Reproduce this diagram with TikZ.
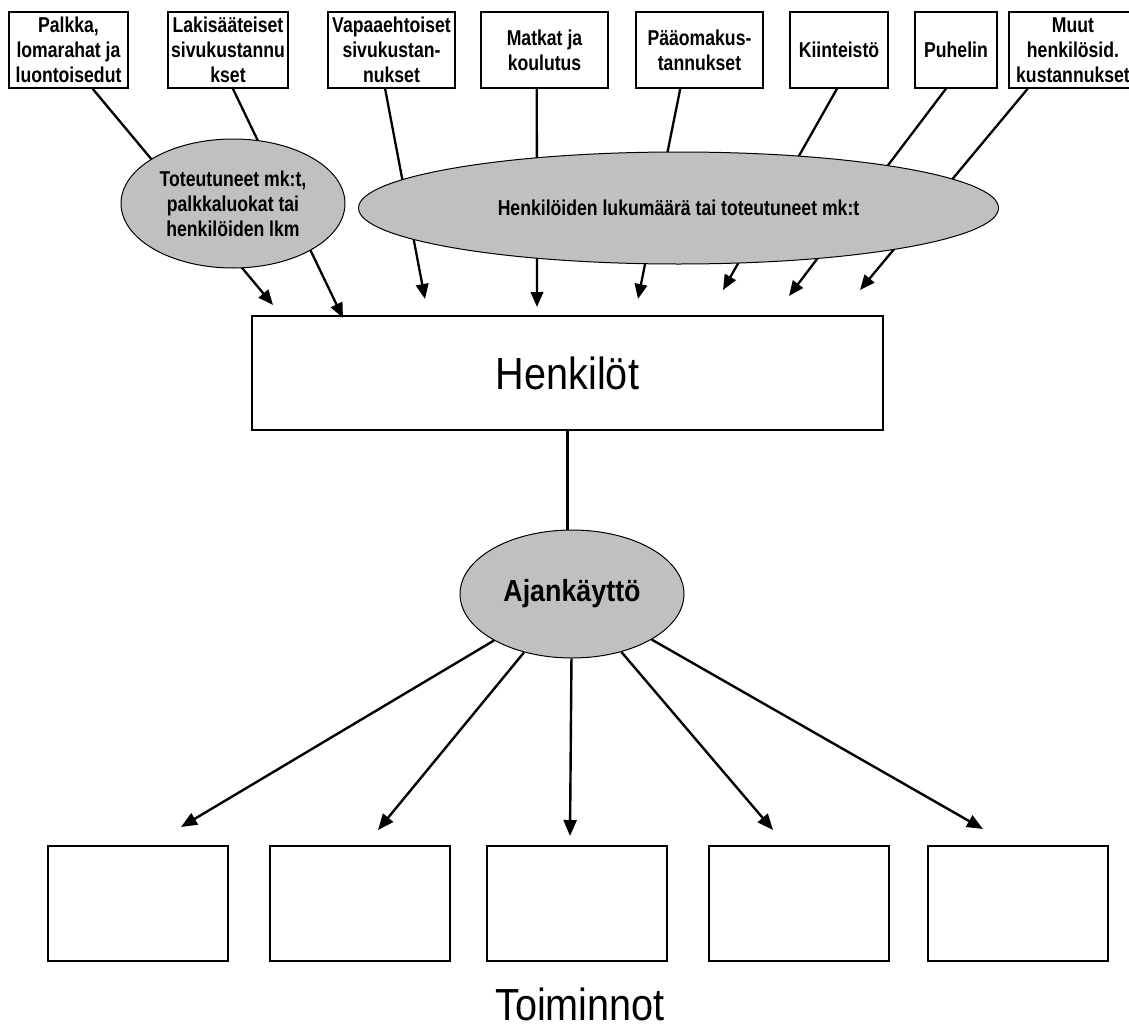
\documentclass[tikz,border=0pt]{standalone}
\usepackage{fontspec}
\setmainfont{Liberation Sans}[FakeStretch=0.88]
\newfontfamily\labelfont{Liberation Sans}[FakeStretch=0.82]
\usetikzlibrary{arrows.meta,shapes.geometric,calc}
\definecolor{ellgray}{RGB}{192,192,192}

\begin{document}
\begin{tikzpicture}[x=1pt,y=-1pt,
  costbox/.style={draw=black, line width=1.3pt, fill=white, inner sep=0pt,
    minimum height=76pt, align=center,
    font=\labelfont\fontsize{21.5}{25}\selectfont\bfseries},
  mainbox/.style={draw=black, line width=1.3pt, fill=white, inner sep=0pt,
    font=\fontsize{45}{50}\selectfont},
  actbox/.style={draw=black, line width=1.3pt, fill=white, inner sep=0pt,
    minimum width=180pt, minimum height=115pt},
  driver/.style={ellipse, draw=black, line width=1pt, fill=ellgray, inner sep=0pt,
    align=center, font=\labelfont\fontsize{21.5}{25}\selectfont\bfseries},
  feed/.style={line width=2.3pt, -{Triangle[length=15pt,width=12.5pt]}},
  spread/.style={line width=2.4pt, -{Triangle[length=16pt,width=13pt]}},
  plainline/.style={line width=2.3pt}
]
\fill[white] (0,0) rectangle (1129,1033);
\useasboundingbox (0,0) rectangle (1129,1033);

% cost items along the top
\node[costbox, minimum width=119pt] (b1) at (68.5,50) {Palkka,\\lomarahat ja\\luontoisedut};
\node[costbox, minimum width=120pt] (b2) at (228,50) {Lakisääteiset\\sivukustannu\\kset};
\node[costbox, minimum width=127pt] (b3) at (391.5,50) {Vapaaehtoiset\\sivukustan-\\nukset};
\node[costbox, minimum width=127pt] (b4) at (544.5,50) {Matkat ja\\koulutus};
\node[costbox, minimum width=127pt] (b5) at (699.5,50) {Pääomakus-\\tannukset};
\node[costbox, minimum width=98pt] (b6) at (839,50) {Kiinteistö};
\node[costbox, minimum width=82pt] (b7) at (956,50) {Puhelin};
\node[costbox, minimum width=128pt] (b8) at (1073,50) {Muut\\henkilösid.\\kustannukset};

% persons
\node[mainbox, minimum width=631pt, minimum height=114pt] (henk) at (567.5,373) {Henkilöt};

% arrow tips above the persons box
\coordinate (t1) at (273,305);
\coordinate (t2) at (343,318);
\coordinate (t3) at (425,299);
\coordinate (t4) at (537,307);
\coordinate (t5) at (638,299);
\coordinate (t6) at (723,290);
\coordinate (t7) at (789,296);
\coordinate (t8) at (860,290);

\draw[feed] ($(b1.south west)!0.70!(b1.south east)$) -- (t1);
\draw[feed] ($(b2.south west)!0.54!(b2.south east)$) -- (t2);
\draw[feed] ($(b3.south west)!0.45!(b3.south east)$) -- (t3);
\draw[feed] ($(b4.south west)!0.44!(b4.south east)$) -- (t4);
\draw[feed] ($(b5.south west)!0.35!(b5.south east)$) -- (t5);
\draw[feed] ($(b6.south west)!0.48!(b6.south east)$) -- (t6);
\draw[feed] ($(b7.south west)!0.38!(b7.south east)$) -- (t7);
\draw[feed] ($(b8.south west)!0.15!(b8.south east)$) -- (t8);

% allocation bases drawn over the connectors
\node[driver, minimum width=224pt, minimum height=129pt] (e1) at (233,203.5)
  {Toteutuneet mk:t,\\palkkaluokat tai\\henkilöiden lkm};
\node[driver, minimum width=640pt, minimum height=112pt] (e2) at (678.5,208)
  {Henkilöiden lukumäärä tai toteutuneet mk:t};

% time usage
\node[driver, minimum width=224pt, minimum height=128pt,
  font=\fontsize{30.5}{36}\selectfont\bfseries] (ajan) at (572,594) {Ajankäyttö};
\draw[plainline] (henk.south) -- (henk.south |- ajan.north);

% activities
\node[actbox] (a1) at (138,903.5) {};
\node[actbox] (a2) at (360,903.5) {};
\node[actbox] (a3) at (577,903.5) {};
\node[actbox] (a4) at (799,903.5) {};
\node[actbox] (a5) at (1018,903.5) {};

\coordinate (ta) at (181,827);
\coordinate (tb) at (378,830);
\coordinate (tc) at (570,836);
\coordinate (td) at (773,830);
\coordinate (te) at (983,829);
\draw[spread] (ajan) -- (ta);
\draw[spread] (ajan) -- (tb);
\draw[spread] (ajan) -- (tc);
\draw[spread] (ajan) -- (td);
\draw[spread] (ajan) -- (te);

\node[font=\fontsize{45}{50}\selectfont, inner sep=0pt] (toim) at (580,1004) {Toiminnot};
\end{tikzpicture}
\end{document}
